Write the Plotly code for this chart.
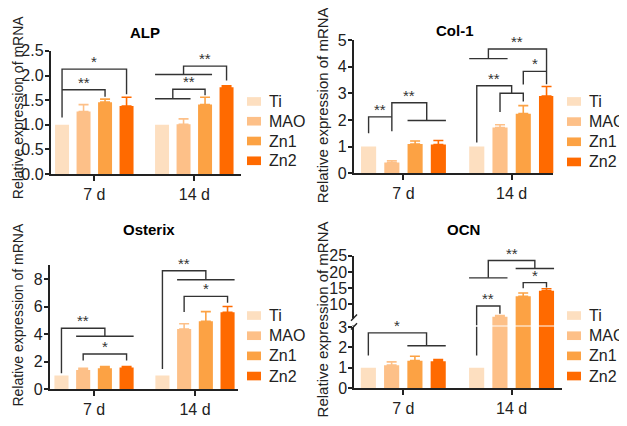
import plotly.graph_objects as go

W, H = 627, 426

# ---------------- data ----------------
series = ["Ti", "MAO", "Zn1", "Zn2"]
colors = ["#FDDFC0", "#FDC088", "#FCA244", "#FF6A00"]
days = ["7 d", "14 d"]
day_pos = [0, 1]

# each list = [7 d, 14 d]
alp_mean = {"Ti": [1.0, 1.0], "MAO": [1.27, 1.01], "Zn1": [1.46, 1.41], "Zn2": [1.38, 1.76]}
alp_err = {"Ti": [0, 0], "MAO": [0.14, 0.11], "Zn1": [0.06, 0.15], "Zn2": [0.18, 0.03]}

col1_mean = {"Ti": [1.0, 1.0], "MAO": [0.40, 1.72], "Zn1": [1.10, 2.24], "Zn2": [1.08, 2.90]}
col1_err = {"Ti": [0, 0], "MAO": [0.07, 0.10], "Zn1": [0.11, 0.30], "Zn2": [0.15, 0.36]}

osx_mean = {"Ti": [1.0, 1.0], "MAO": [1.39, 4.37], "Zn1": [1.52, 4.93], "Zn2": [1.58, 5.58]}
osx_err = {"Ti": [0, 0], "MAO": [0.12, 0.38], "Zn1": [0.12, 0.70], "Zn2": [0.06, 0.42]}

ocn_mean = {"Ti": [1.0, 1.0], "MAO": [1.13, 6.2], "Zn1": [1.35, 12.5], "Zn2": [1.32, 14.2]}
ocn_err = {"Ti": [0, 0], "MAO": [0.16, 0.3], "Zn1": [0.22, 1.0], "Zn2": [0.08, 0.6]}

titles = ["ALP", "Col-1", "Osterix", "OCN"]
ytitle = "Relative expression of mRNA"

# ---------------- layout helpers ----------------
# the page body adds an 8px offset; positions below are target screen pixels
OX, OY = 8, 8

def px(x):
    return (x - OX) / W

def py(y):
    return 1 - (y - OY) / H

BARGAP, GROUPGAP = 0.14, 0.35
SLOT = (1 - BARGAP) / 4
HALF = SLOT * (1 - GROUPGAP) / 2

def c(g, i):
    return g + (i - 1.5) * SLOT

def le(g, i):
    return c(g, i) - HALF

def ri(g, i):
    return c(g, i) + HALF

def mid(g, a, b):
    return (le(g, a) + ri(g, b)) / 2

FONT = "Arial, Liberation Sans, sans-serif"
INK = "#222222"

fig = go.Figure()

panels = [
    (alp_mean, alp_err, "x", "y"),
    (col1_mean, col1_err, "x2", "y2"),
    (osx_mean, osx_err, "x3", "y3"),
    (ocn_mean, ocn_err, "x4", "y4"),
    (ocn_mean, ocn_err, "x4", "y5"),  # OCN upper segment (axis break)
]

for means, errs, xa, ya in panels:
    for s, col in zip(series, colors):
        has_err = any(e > 0 for e in errs[s])
        fig.add_trace(go.Bar(
            x=day_pos, y=means[s], name=s, marker=dict(color=col, line=dict(width=0)),
            error_y=dict(type="data", array=errs[s], arrayminus=[0, 0], symmetric=False,
                         color=col, thickness=1.6, width=5, visible=has_err),
            xaxis=xa, yaxis=ya, showlegend=False,
        ))

# ---------------- axes ----------------
ax_common = dict(showline=True, linecolor=INK, linewidth=1.5, ticks="outside",
                 tickcolor=INK, tickwidth=1.5, showgrid=False, zeroline=False,
                 tickfont=dict(family=FONT, size=16, color=INK))
xa_common = dict(ticklen=5, **ax_common)
ya_common = dict(ticklen=4, ticklabelstandoff=-2, **ax_common)

alp_box = (50.5, 240.7, 44.3, 172.7)
col_box = (353.5, 553.3, 33.3, 171.7)
osx_box = (49.5, 238.3, 267.3, 396.7)
ocn_box = (354.0, 561.7, 257.7, 395.7)
ocn_lower_top = 331.5
ocn_upper_bottom = 330.4

def xdom(b):
    return [px(b[0]), px(b[1])]

def ydom(top, bottom):
    return [py(bottom), py(top)]

lay = dict(
    xaxis=dict(domain=xdom(alp_box), anchor="y", range=[-0.438, 1.464],
               tickvals=day_pos, ticktext=days, **xa_common),
    yaxis=dict(domain=ydom(alp_box[2], alp_box[3]), anchor="x", range=[0, 2.5],
               tickvals=[0, 0.5, 1.0, 1.5, 2.0, 2.5], tickformat=".1f", **ya_common),
    xaxis2=dict(domain=xdom(col_box), anchor="y2", range=[-0.462, 1.385],
                tickvals=day_pos, ticktext=days, **xa_common),
    yaxis2=dict(domain=ydom(col_box[2], col_box[3]), anchor="x2", range=[0, 5],
                tickvals=[0, 1, 2, 3, 4, 5], **ya_common),
    xaxis3=dict(domain=xdom(osx_box), anchor="y3", range=[-0.441, 1.429],
                tickvals=day_pos, ticktext=days, **xa_common),
    yaxis3=dict(domain=ydom(osx_box[2], osx_box[3]), anchor="x3", range=[0, 9.02],
                tickvals=[0, 2, 4, 6, 8], **ya_common),
    xaxis4=dict(domain=xdom(ocn_box), anchor="y4", range=[-0.455, 1.463],
                tickvals=day_pos, ticktext=days, **xa_common),
    yaxis4=dict(domain=ydom(ocn_lower_top, ocn_box[3]), anchor="x4", range=[0, 3.02],
                tickvals=[0, 1, 2, 3], **ya_common),
    yaxis5=dict(domain=ydom(ocn_box[2], ocn_upper_bottom), anchor="x4", range=[3.45, 25],
                tickvals=[10, 15, 20, 25], **ya_common),
)

# ---------------- significance brackets ----------------
lines = [
    # ALP 7 d
    ("x", "y", [(c(0, 0), 1.15), (c(0, 0), 2.13), (c(0, 3), 2.13), (c(0, 3), 1.62)]),
    ("x", "y", [(c(0, 0), 1.71), (c(0, 2), 1.71), (c(0, 2), 1.57)]),
    # ALP 14 d
    ("x", "y", [(le(1, 0), 1.53), (ri(1, 1), 1.53)]),
    ("x", "y", [(mid(1, 0, 1), 1.53), (mid(1, 0, 1), 1.72), (c(1, 2), 1.72), (c(1, 2), 1.60)]),
    ("x", "y", [(le(1, 0), 2.02), (ri(1, 2), 2.02)]),
    ("x", "y", [(mid(1, 0, 2), 2.02), (mid(1, 0, 2), 2.19), (c(1, 3), 2.19), (c(1, 3), 1.90)]),
    # Col-1 7 d
    ("x2", "y2", [(c(0, 0), 1.5), (c(0, 0), 2.12), (c(0, 1), 2.12)]),
    ("x2", "y2", [(c(0, 1), 1.58), (c(0, 1), 2.65), (mid(0, 2, 3), 2.65), (mid(0, 2, 3), 1.98)]),
    ("x2", "y2", [(le(0, 2), 1.98), (ri(0, 3), 1.98)]),
    # Col-1 14 d
    ("x2", "y2", [(c(1, 1), 2.3), (c(1, 1), 3.01), (c(1, 2), 3.01), (c(1, 2), 2.7)]),
    ("x2", "y2", [(c(1, 0), 1.15), (c(1, 0), 3.29), ((c(1, 1) + c(1, 2)) / 2, 3.29),
                  ((c(1, 1) + c(1, 2)) / 2, 3.01)]),
    ("x2", "y2", [(le(1, 0), 4.31), (ri(1, 1), 4.31)]),
    ("x2", "y2", [(mid(1, 0, 1), 4.31), (mid(1, 0, 1), 4.67), (c(1, 3), 4.67), (c(1, 3), 3.35)]),
    ("x2", "y2", [(c(1, 2), 3.34), (c(1, 2), 3.83), (c(1, 3), 3.83)]),
    # Osterix 7 d
    ("x3", "y3", [(c(0, 0), 1.15), (c(0, 0), 4.42), (mid(0, 1, 3), 4.42), (mid(0, 1, 3), 3.84)]),
    ("x3", "y3", [(le(0, 1), 3.84), (ri(0, 3), 3.84)]),
    ("x3", "y3", [(c(0, 1), 2.09), (c(0, 1), 2.56), (c(0, 3), 2.56), (c(0, 3), 2.09)]),
    # Osterix 14 d
    ("x3", "y3", [(c(1, 0), 1.46), (c(1, 0), 8.6), (mid(1, 1, 3), 8.6), (mid(1, 1, 3), 7.95)]),
    ("x3", "y3", [(le(1, 1), 7.95), (ri(1, 3), 7.95)]),
    ("x3", "y3", [(c(1, 1), 5.6), (c(1, 1), 6.74), (c(1, 3), 6.74), (c(1, 3), 6.28)]),
    # OCN 7 d (lower segment)
    ("x4", "y4", [(c(0, 0), 1.6), (c(0, 0), 2.71), (mid(0, 2, 3), 2.71), (mid(0, 2, 3), 2.08)]),
    ("x4", "y4", [(le(0, 2), 2.08), (ri(0, 3), 2.08)]),
    # OCN 14 d
    ("x4", "y4", [(c(1, 0), 1.6), (c(1, 0), 3.02)]),
    ("x4", "y5", [(c(1, 0), 3.45), (c(1, 0), 9.49), (c(1, 1), 9.49), (c(1, 1), 7.1)]),
    ("x4", "y5", [(mid(1, 0, 1), 18.18), (mid(1, 0, 1), 23.52), (mid(1, 2, 3), 23.52),
                  (mid(1, 2, 3), 21.06)]),
    ("x4", "y5", [(le(1, 0), 18.18), (ri(1, 1), 18.18)]),
    ("x4", "y5", [(le(1, 2), 21.06), (ri(1, 3), 21.06)]),
    ("x4", "y5", [(c(1, 2), 15.0), (c(1, 2), 16.7), (c(1, 3), 16.7), (c(1, 3), 15.2)]),
]

stars = [
    ("x", "y", (c(0, 0) + c(0, 3)) / 2, 2.13, "*"),
    ("x", "y", (c(0, 0) + c(0, 2)) / 2, 1.71, "**"),
    ("x", "y", (mid(1, 0, 1) + c(1, 2)) / 2, 1.72, "**"),
    ("x", "y", (mid(1, 0, 2) + c(1, 3)) / 2, 2.19, "**"),
    ("x2", "y2", (c(0, 0) + c(0, 1)) / 2, 2.12, "**"),
    ("x2", "y2", (c(0, 1) + mid(0, 2, 3)) / 2, 2.65, "**"),
    ("x2", "y2", (c(1, 0) + (c(1, 1) + c(1, 2)) / 2) / 2, 3.29, "**"),
    ("x2", "y2", (mid(1, 0, 1) + c(1, 3)) / 2, 4.67, "**"),
    ("x2", "y2", (c(1, 2) + c(1, 3)) / 2, 3.83, "*"),
    ("x3", "y3", (c(0, 0) + mid(0, 1, 3)) / 2, 4.42, "**"),
    ("x3", "y3", (c(0, 1) + c(0, 3)) / 2, 2.56, "*"),
    ("x3", "y3", (c(1, 0) + mid(1, 1, 3)) / 2, 8.6, "**"),
    ("x3", "y3", (c(1, 1) + c(1, 3)) / 2, 6.74, "*"),
    ("x4", "y4", (c(0, 0) + mid(0, 2, 3)) / 2, 2.71, "*"),
    ("x4", "y5", (c(1, 0) + c(1, 1)) / 2, 9.49, "**"),
    ("x4", "y5", (mid(1, 0, 1) + mid(1, 2, 3)) / 2, 23.52, "**"),
    ("x4", "y5", (c(1, 2) + c(1, 3)) / 2, 16.7, "*"),
]

shapes = []
for xa, ya, pts in lines:
    path = "M " + " L ".join(f"{x},{y}" for x, y in pts)
    shapes.append(dict(type="path", path=path, xref=xa, yref=ya,
                       line=dict(color="#333333", width=1.4), layer="above"))

# axis-break marks on the OCN y axis
ax_x = ocn_box[0]
shapes.append(dict(type="rect", xref="paper", yref="paper",
                   x0=px(ax_x - 2), x1=px(ax_x + 2), y0=py(330.5), y1=py(323),
                   fillcolor="white", line=dict(width=0), layer="above"))
for y_low in (325.5, 334.5):
    shapes.append(dict(type="line", xref="paper", yref="paper",
                       x0=px(ax_x - 3), y0=py(y_low), x1=px(ax_x + 3), y1=py(y_low - 6.5),
                       line=dict(color=INK, width=1.4), layer="above"))

annotations = []
for xa, ya, x, y, t in stars:
    annotations.append(dict(x=x, y=y, xref=xa, yref=ya, text=t, showarrow=False,
                            xanchor="center", yanchor="bottom", yshift=-3,
                            font=dict(family=FONT, size=15, color="#333333")))

# ---------------- legends (one per panel) ----------------
legend_pos = [  # (swatch left x, first row y, row step)
    (247, 97, 20.6),
    (567, 97, 21.0),
    (247, 320, 21.0),
    (567, 320, 21.0),
]
for sx, sy, step in legend_pos:
    for k, (s, col) in enumerate(zip(series, colors)):
        yc = sy + k * step
        shapes.append(dict(type="rect", xref="paper", yref="paper",
                           x0=px(sx), x1=px(sx + 14), y0=py(yc + 4.5), y1=py(yc - 4.5),
                           fillcolor=col, line=dict(width=0)))
        annotations.append(dict(x=px(sx + 20), y=py(yc), xref="paper", yref="paper", text=s,
                                showarrow=False, xanchor="left", yanchor="middle",
                                font=dict(family=FONT, size=16, color=INK)))

# panel titles
for t, (tx, ty) in zip(titles, [(145, 25), (455, 23.5), (149, 230), (463, 230)]):
    annotations.append(dict(x=px(tx), y=py(ty), xref="paper", yref="paper", text=f"<b>{t}</b>",
                            showarrow=False, xanchor="center", yanchor="middle",
                            font=dict(family=FONT, size=15, color="black")))

# y-axis titles
for (tx, ty, fs) in [(18, 103, 14), (322, 101, 15), (18, 319, 14), (322, 324, 15)]:
    annotations.append(dict(x=px(tx), y=py(ty), xref="paper", yref="paper", text=ytitle,
                            textangle=-90, showarrow=False, xanchor="center", yanchor="middle",
                            font=dict(family=FONT, size=fs, color=INK)))

fig.update_layout(
    width=W, height=H, margin=dict(l=0, r=0, t=0, b=0),
    paper_bgcolor="white", plot_bgcolor="white",
    barmode="group", bargap=BARGAP, bargroupgap=GROUPGAP,
    shapes=shapes, annotations=annotations, font=dict(family=FONT),
    showlegend=False,
    **lay,
)

fig.write_html("out.html")
